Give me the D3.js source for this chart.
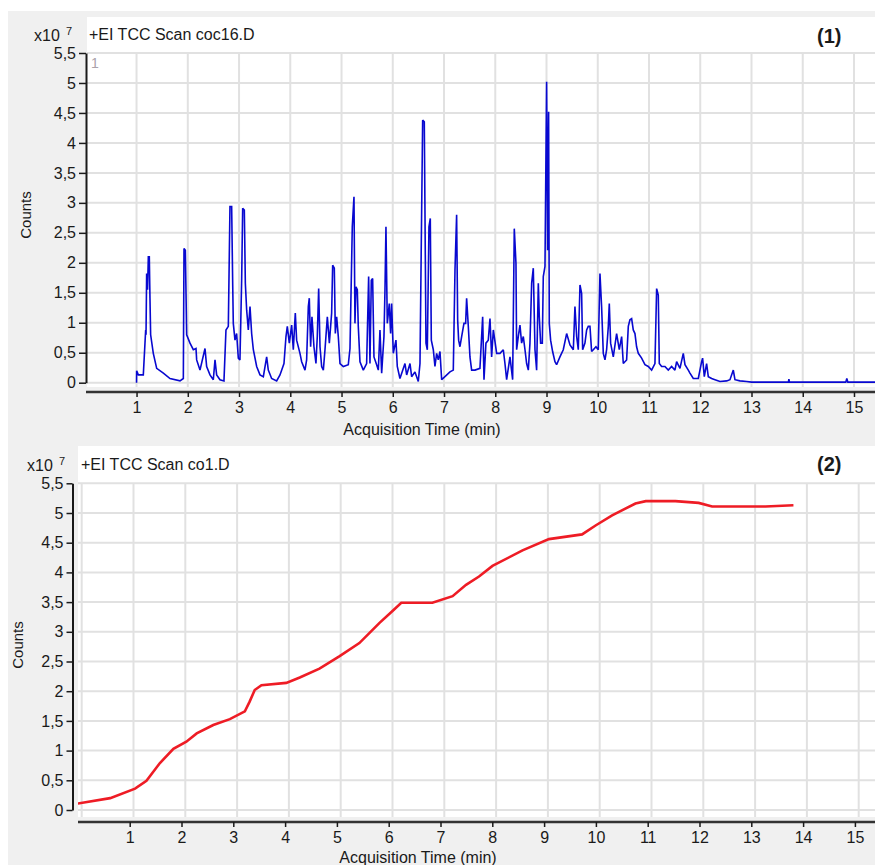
<!DOCTYPE html>
<html><head><meta charset="utf-8">
<script src="https://cdn.jsdelivr.net/npm/d3@7/dist/d3.min.js"></script>
<style>
body{margin:0;background:#fff}
svg{display:block}
text{font-family:"Liberation Sans",Arial,sans-serif;fill:#1a1a1a}
</style>
</head><body>
<svg id="c" width="875" height="865"></svg>
<script>
// ---------- DATA ----------
const time1 = [1.000,1.002,1.035,1.132,1.178,1.185,1.197,1.215,1.230,1.249,1.262,1.275,1.327,1.393,1.523,1.653,1.848,1.913,1.926,1.952,1.978,2.043,2.108,2.160,2.173,2.238,2.336,2.368,2.433,2.498,2.531,2.563,2.628,2.706,2.745,2.791,2.823,2.856,2.876,2.888,2.921,2.953,2.986,3.018,3.051,3.071,3.103,3.123,3.149,3.181,3.214,3.246,3.279,3.344,3.409,3.474,3.539,3.571,3.636,3.734,3.799,3.877,3.916,3.942,3.981,4.027,4.059,4.098,4.124,4.189,4.222,4.287,4.319,4.352,4.371,4.397,4.423,4.462,4.501,4.527,4.554,4.580,4.612,4.645,4.677,4.723,4.762,4.807,4.827,4.859,4.879,4.905,4.937,4.970,5.035,5.132,5.165,5.210,5.243,5.262,5.282,5.308,5.327,5.360,5.425,5.490,5.529,5.555,5.581,5.607,5.633,5.685,5.718,5.750,5.783,5.828,5.848,5.867,5.893,5.932,5.958,5.978,6.010,6.062,6.088,6.140,6.238,6.271,6.336,6.368,6.433,6.498,6.531,6.583,6.615,6.648,6.674,6.706,6.732,6.752,6.791,6.823,6.856,6.888,6.921,6.954,7.018,7.116,7.181,7.214,7.246,7.266,7.285,7.311,7.344,7.389,7.422,7.441,7.474,7.506,7.539,7.604,7.701,7.754,7.780,7.818,7.864,7.897,7.929,7.962,8.027,8.092,8.157,8.189,8.222,8.287,8.339,8.371,8.404,8.417,8.449,8.482,8.514,8.547,8.580,8.612,8.645,8.677,8.710,8.742,8.775,8.807,8.840,8.859,8.885,8.918,8.937,8.970,9.002,9.022,9.041,9.054,9.080,9.119,9.165,9.197,9.262,9.327,9.393,9.458,9.523,9.555,9.588,9.620,9.653,9.685,9.705,9.750,9.783,9.815,9.848,9.880,9.913,9.965,10.010,10.043,10.075,10.108,10.141,10.173,10.206,10.225,10.251,10.303,10.368,10.420,10.466,10.498,10.563,10.596,10.628,10.661,10.693,10.726,10.758,10.791,10.856,10.921,10.986,11.051,11.116,11.149,11.181,11.201,11.246,11.311,11.376,11.441,11.506,11.539,11.604,11.669,11.702,11.767,11.799,11.864,11.962,12.027,12.046,12.079,12.124,12.157,12.222,12.287,12.385,12.515,12.580,12.645,12.677,12.775,12.905,13.000,13.720,13.730,13.740,14.840,14.860,14.880,15.410];
const counts1 = [0.00,0.20,0.13,0.13,0.88,0.80,1.82,1.55,2.10,2.10,1.41,0.80,0.49,0.24,0.16,0.07,0.03,0.07,2.24,2.21,0.80,0.66,0.55,0.57,0.38,0.21,0.57,0.27,0.13,0.05,0.38,0.13,0.05,0.03,0.88,0.94,2.94,2.94,1.66,0.99,0.71,0.82,0.41,0.38,1.71,2.91,2.88,1.66,1.21,0.88,1.27,0.82,0.55,0.27,0.13,0.10,0.43,0.21,0.07,0.03,0.13,0.32,0.77,0.94,0.66,0.96,0.55,1.16,0.71,0.49,0.35,0.21,0.38,1.27,1.41,0.60,1.10,0.60,0.32,0.77,1.57,0.60,0.27,0.21,0.55,1.10,0.66,1.16,1.96,1.91,0.82,1.10,0.77,0.32,0.27,0.30,0.57,2.60,3.10,0.99,1.60,1.55,0.94,0.35,0.21,0.32,1.77,0.32,1.71,1.74,0.43,0.30,0.21,0.88,0.16,0.77,1.55,2.60,0.99,1.32,0.82,1.32,0.49,0.71,0.27,0.07,0.32,0.13,0.32,0.10,0.18,0.02,0.32,4.38,4.35,0.66,0.55,2.60,2.74,0.71,0.55,0.27,0.49,0.38,0.52,0.05,0.10,0.18,0.21,1.88,2.80,1.05,0.71,0.60,0.77,0.99,0.99,1.41,0.94,0.43,0.21,0.21,0.24,1.10,0.05,0.66,0.71,1.07,0.43,0.88,0.49,0.49,0.55,0.32,0.05,0.43,0.05,2.57,1.99,0.55,0.77,0.96,0.66,0.77,0.55,0.32,0.21,0.66,1.66,1.91,0.55,0.21,1.66,1.10,0.66,0.66,1.77,1.94,5.02,2.21,4.52,0.99,0.71,0.52,0.35,0.30,0.43,0.55,0.82,0.63,0.55,1.27,0.77,0.55,1.63,1.49,0.55,0.66,0.88,0.94,0.94,0.52,0.55,0.60,0.55,1.82,1.27,0.49,0.38,0.55,0.94,1.32,0.66,0.43,0.82,0.55,0.77,0.32,0.38,0.94,1.05,1.07,0.88,0.82,0.60,0.49,0.41,0.30,0.27,0.21,0.32,1.57,1.46,0.32,0.27,0.27,0.21,0.27,0.21,0.35,0.24,0.49,0.30,0.21,0.16,0.07,0.07,0.35,0.41,0.10,0.32,0.10,0.07,0.05,0.02,0.03,0.05,0.21,0.05,0.03,0.02,0.01,0.01,0.06,0.01,0.01,0.07,0.01,0.01];

const time2 = [-0.13,0.55,1.03,1.25,1.51,1.77,2.02,2.22,2.54,2.86,3.15,3.24,3.34,3.47,3.95,4.21,4.59,4.98,5.36,5.75,6.00,6.17,6.77,7.16,7.42,7.67,7.93,8.51,9.02,9.66,9.92,10.24,10.69,10.89,11.46,11.91,12.17,13.20,13.74];
const counts2 = [0.10,0.20,0.36,0.49,0.79,1.03,1.15,1.29,1.43,1.53,1.66,1.82,2.02,2.10,2.14,2.23,2.38,2.59,2.81,3.15,3.35,3.49,3.49,3.60,3.79,3.93,4.11,4.37,4.56,4.64,4.79,4.96,5.16,5.20,5.20,5.17,5.11,5.11,5.13];

const xTicks = [1,2,3,4,5,6,7,8,9,10,11,12,13,14,15];
const yTicks = [0,0.5,1,1.5,2,2.5,3,3.5,4,4.5,5,5.5];
const yTickLabels = ["0","0,5","1","1,5","2","2,5","3","3,5","4","4,5","5","5,5"];
const titles = ["+EI TCC Scan coc16.D","+EI TCC Scan co1.D"];
const panelLabels = ["(1)","(2)"];
const xTitle = "Acquisition Time (min)";
const yTitle = "Counts";

// ---------- LAYOUT ----------
const svg = d3.select("#c");
svg.append("rect").attr("x",8).attr("y",11).attr("width",867).attr("height",854).attr("fill","#f0f0f0");

const panels = [
  {t:time1, c:counts1, color:"#0808d0", sw:1.6,
   plot:{x0:87,x1:875,y0:17,y1:387}, yAxisX:86, xAxisY:392,
   xDom:[0,15.41], xRange:[85.3,875], axisShift:0,
   yRange:[382.7,53], gridTop:53,
   tickIn:7, tickPad:3, ytitleX:31, ytitleY:215, xtitleX:422, xtitleY:435,
   x10:{x:34,y:41}, sup:{x:66,y:35}, title:{x:89,y:40}, lab:{x:817,y:43}, one:true},
  {t:time2, c:counts2, color:"#ee1c25", sw:2.6,
   plot:{x0:78,x1:875,y0:446,y1:817}, yAxisX:72.5, xAxisY:822,
   xDom:[0,15.2], xRange:[81.7,81.7+51.8*15.2], axisShift:-3.8,
   yRange:[810,483.3], gridTop:483,
   tickIn:6, tickPad:3, ytitleX:23, ytitleY:645, xtitleX:418, xtitleY:863,
   x10:{x:27,y:471}, sup:{x:59,y:465}, title:{x:81,y:470}, lab:{x:817,y:471}, one:false}
];

panels.forEach((p,i)=>{
  const g = svg.append("g");
  g.append("rect").attr("x",p.plot.x0).attr("y",p.plot.y0)
    .attr("width",p.plot.x1-p.plot.x0).attr("height",p.plot.y1-p.plot.y0).attr("fill","#fff");
  const x = d3.scaleLinear().domain(p.xDom).range(p.xRange);
  const y = d3.scaleLinear().domain([0,5.5]).range(p.yRange);
  const clipId = "clip"+i;
  svg.append("clipPath").attr("id",clipId).append("rect")
    .attr("x",p.plot.x0).attr("y",p.plot.y0).attr("width",p.plot.x1-p.plot.x0).attr("height",p.plot.y1-p.plot.y0);
  const grid = g.append("g").attr("clip-path",`url(#${clipId})`);
  grid.selectAll("line.h").data(yTicks).join("line").attr("class","h")
    .attr("x1",p.plot.x0).attr("x2",p.plot.x1).attr("y1",d=>y(d)).attr("y2",d=>y(d))
    .attr("stroke","#e1e1e1").attr("stroke-width",2);
  grid.selectAll("line.v").data([0].concat(xTicks)).join("line").attr("class","v")
    .attr("x1",d=>x(d)).attr("x2",d=>x(d)).attr("y1",p.gridTop).attr("y2",p.plot.y1)
    .attr("stroke","#e1e1e1").attr("stroke-width",2);
  const line = d3.line().x(d=>x(d[0])).y(d=>y(d[1]));
  grid.append("path").datum(p.t.map((t,k)=>[t,p.c[k]]))
    .attr("d",line).attr("fill","none").attr("stroke",p.color)
    .attr("stroke-width",p.sw).attr("stroke-linejoin","miter").attr("stroke-miterlimit",2);

  const ya = d3.axisLeft(y).tickValues(yTicks).tickFormat((d,k)=>yTickLabels[k])
    .tickSize(p.tickIn).tickSizeOuter(0).tickPadding(p.tickPad);
  const yg = g.append("g").attr("transform",`translate(${p.yAxisX},0)`).call(ya);
  yg.select(".domain").attr("stroke","#1a1a1a").attr("stroke-width",2);
  yg.selectAll(".tick line").attr("stroke","#1a1a1a").attr("stroke-width",1.5);
  yg.selectAll(".tick text").attr("font-size",16).attr("fill","#1a1a1a");

  const xAxisScale = x.copy().range(p.xRange.map(r=>r+p.axisShift));
  const xa = d3.axisBottom(xAxisScale).tickValues(xTicks).tickFormat(d3.format("d"))
    .tickSize(5).tickSizeOuter(0).tickPadding(5);
  const xg = g.append("g").attr("transform",`translate(0,${p.xAxisY})`).call(xa);
  xg.select(".domain").attr("d",`M${p.plot.x0 - (i===0?1:0)},0H875`).attr("stroke","#333").attr("stroke-width",2.5);
  xg.selectAll(".tick line").attr("stroke","#1a1a1a").attr("stroke-width",1.5);
  xg.selectAll(".tick text").attr("font-size",16).attr("fill","#1a1a1a");

  g.append("text").attr("x",p.xtitleX).attr("y",p.xtitleY).attr("text-anchor","middle")
    .attr("font-size",16).text(xTitle);
  g.append("text").attr("transform",`translate(${p.ytitleX},${p.ytitleY}) rotate(-90)`)
    .attr("text-anchor","middle").attr("font-size",15).text(yTitle);
  g.append("text").attr("x",p.x10.x).attr("y",p.x10.y).attr("font-size",16).text("x10");
  g.append("text").attr("x",p.sup.x).attr("y",p.sup.y).attr("font-size",11).text("7");
  g.append("text").attr("x",p.title.x).attr("y",p.title.y).attr("font-size",16).text(titles[i]);
  g.append("text").attr("x",p.lab.x).attr("y",p.lab.y).attr("font-size",20)
    .attr("font-weight","bold").attr("fill","#111").text(panelLabels[i]);
  if(p.one){
    g.append("text").attr("x",91).attr("y",68).attr("font-size",14)
      .style("fill","#aaa2aa").text("1");
  }
});
</script>
</body></html>
